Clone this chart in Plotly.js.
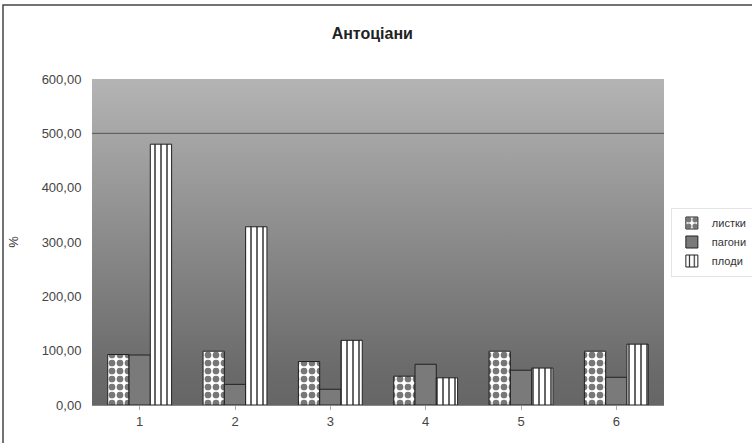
<!DOCTYPE html>
<html><head><meta charset="utf-8">
<script src="https://cdn.plot.ly/plotly-3.0.1.min.js"></script>
<style>html,body{margin:0;padding:0;background:#fff}#c{width:752px;height:443px}</style>
</head><body><div id="c"></div>
<script>
const categories = ['1','2','3','4','5','6'];
const lystky = [93, 99, 80, 53, 99, 99];
const pahony = [92, 38, 29, 75, 64, 51];
const plody = [480, 328, 119, 50, 68, 112];
const seriesNames = ['листки','пагони','плоди'];
const yTicks = [0,100,200,300,400,500,600];

const svg = '<svg xmlns="http://www.w3.org/2000/svg" width="100" height="100" preserveAspectRatio="none">' +
  '<defs><linearGradient id="g" x1="0" y1="0" x2="0" y2="1">' +
  '<stop offset="0" stop-color="#b4b4b4"/><stop offset="0.5" stop-color="#8a8a8a"/>' +
  '<stop offset="0.9" stop-color="#6a6a6a"/><stop offset="1" stop-color="#666"/></linearGradient></defs>' +
  '<rect width="100" height="100" fill="url(#g)"/></svg>';
const bgImg = 'data:image/svg+xml;base64,' + btoa(svg);

const shapes = [
  {type:'line', xref:'x domain', yref:'y', x0:0, x1:1, y0:500, y1:500,
   line:{color:'#555', width:1}, layer:'below'},
  {type:'rect', xref:'paper', yref:'paper', x0:-0.1556, x1:1.17, y0:-0.14, y1:1.227,
   line:{color:'#444', width:1.5}, fillcolor:'rgba(0,0,0,0)'}
];

const line = {color:'#222', width:1};
const traces = [
  {type:'bar', name:seriesNames[0], x:categories, y:lystky,
   marker:{color:'#fff', line, pattern:{shape:'.', bgcolor:'#ffffff', fgcolor:'#777', size:8, solidity:0.55}}},
  {type:'bar', name:seriesNames[1], x:categories, y:pahony,
   marker:{color:'#7a7a7a', line}},
  {type:'bar', name:seriesNames[2], x:categories, y:plody,
   marker:{color:'#fff', line, pattern:{shape:'|', bgcolor:'#ffffff', fgcolor:'#333', size:6, solidity:0.25}}}
];

const layout = {
  width:752, height:443,
  margin:{l:92, r:88, t:79, b:38, autoexpand:false},
  paper_bgcolor:'#fff', plot_bgcolor:'rgba(0,0,0,0)',
  font:{family:'Liberation Sans, Arial, sans-serif', color:'#333', size:13},
  separators:', ',
  title:{text:'<b>Антоціани</b>', x:0.49, xref:'paper', xanchor:'center', y:0.925, yanchor:'middle',
    font:{size:16, color:'#222'}},
  barmode:'group', bargap:0.33, bargroupgap:0,
  xaxis:{showgrid:false, showline:true, linecolor:'#888', ticks:'outside', ticklen:4, tickcolor:'#aaa',
    tickson:'boundaries', tickfont:{size:13, color:'#444'}},
  yaxis:{range:[0,600], tickvals:yTicks, tickformat:'.2f', showgrid:false, zeroline:false,
    showline:false, ticks:'outside', ticklen:7, tickcolor:'rgba(0,0,0,0)', tickfont:{size:13, color:'#444'}, automargin:false,
    title:{text:'%', font:{size:13, color:'#333'}, standoff:20}},
  legend:{x:1.012, xanchor:'left', y:0.5, yanchor:'middle', bgcolor:'#fff',
    bordercolor:'#e4e4e4', borderwidth:1, font:{size:11, color:'#333'}, tracegroupgap:2, itemwidth:30},
  images:[{source:bgImg, xref:'paper', yref:'paper', x:0, y:1, sizex:1, sizey:1,
    sizing:'stretch', xanchor:'left', yanchor:'top', layer:'below'}],
  shapes,
  showlegend:true
};
Plotly.newPlot('c', traces, layout, {displayModeBar:false, staticPlot:true});
</script></body></html>
